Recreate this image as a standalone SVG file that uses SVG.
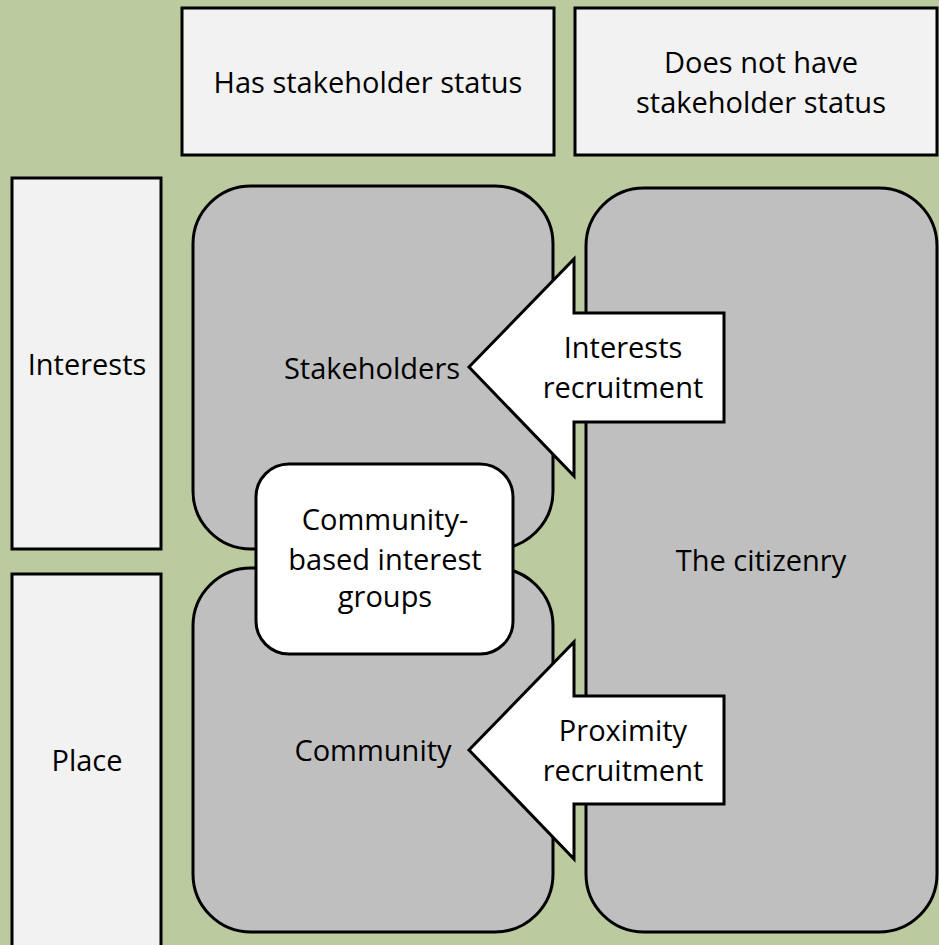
<svg xmlns="http://www.w3.org/2000/svg" width="939" height="945" viewBox="0 0 939 945">
<style>
.hdr{fill:#F2F2F2;stroke:#000;stroke-width:3}
.blob{fill:#BFBFBF;stroke:#000;stroke-width:3}
.wht{fill:#FFFFFF;stroke:#000;stroke-width:3;stroke-linejoin:miter}
text{font-family:"Open Sans","Noto Sans","Liberation Sans",sans-serif;font-size:29px;fill:#000;text-anchor:middle}
</style>
<rect x="0" y="0" width="939" height="945" fill="#BBCA9F"/>
<g id="has-status">
<rect class="hdr" x="182" y="8" width="372" height="147"/>
<text x="368" y="93">Has stakeholder status</text>
</g>
<g id="no-status">
<rect class="hdr" x="575" y="8" width="362" height="147"/>
<text x="761" y="73">Does not have</text>
<text x="761" y="113">stakeholder status</text>
</g>
<g id="interests">
<rect class="hdr" x="12" y="178" width="149" height="371"/>
<text x="87" y="375">Interests</text>
</g>
<g id="place">
<rect class="hdr" x="12" y="574" width="149" height="374"/>
<text x="87" y="771">Place</text>
</g>
<g id="stakeholders">
<rect class="blob" x="193" y="186" width="360" height="363" rx="58" ry="58"/>
<text x="372" y="379">Stakeholders</text>
</g>
<g id="community">
<rect class="blob" x="193" y="568" width="360" height="364" rx="58" ry="58"/>
<text x="373" y="761">Community</text>
</g>
<g id="citizenry">
<rect class="blob" x="586" y="188" width="351" height="744" rx="58" ry="58"/>
<text x="761" y="571">The citizenry</text>
</g>
<g id="community-based">
<rect class="wht" x="256" y="464" width="257" height="190" rx="33" ry="33"/>
<text x="385" y="530">Community-</text>
<text x="385" y="570">based interest</text>
<text x="385" y="607">groups</text>
</g>
<g id="connectors">
<g id="interests-recruitment">
<polygon class="wht" points="469,367 574,259 574,313 724,313 724,422 574,422 574,476"/>
<text x="623" y="358">Interests</text>
<text x="623" y="398">recruitment</text>
</g>
<g id="proximity-recruitment">
<polygon class="wht" points="469,750 574,642 574,696 724,696 724,804 574,804 574,859"/>
<text x="623" y="741">Proximity</text>
<text x="623" y="781">recruitment</text>
</g>
</g>
</svg>
